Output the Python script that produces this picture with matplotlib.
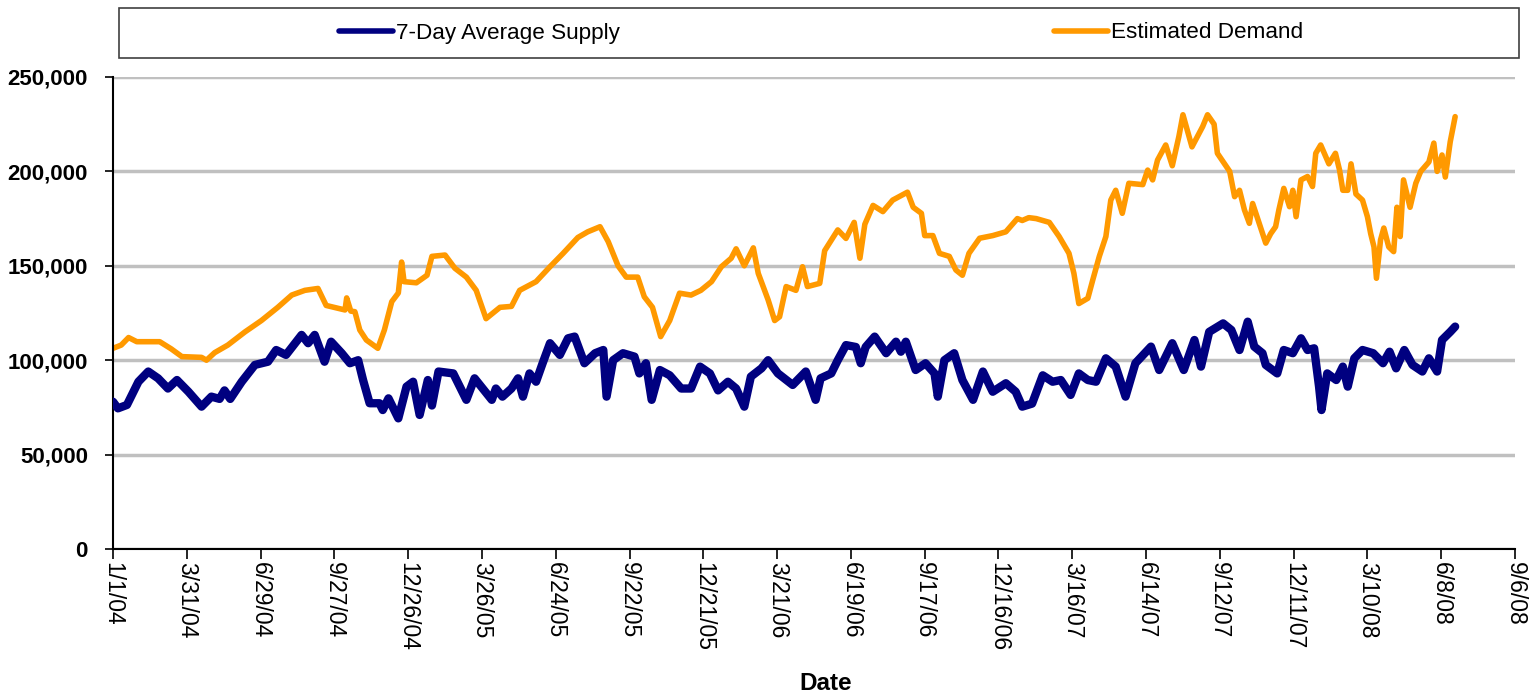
import matplotlib
matplotlib.use("Agg")
import matplotlib.pyplot as plt
import matplotlib.ticker as mticker
from matplotlib.patches import Rectangle
import pandas as pd

plt.rcParams['font.family'] = ['Liberation Sans', 'DejaVu Sans']

start = pd.Timestamp('2004-01-01')

# days after 1/1/04 and values
demand_days = [0, 10, 19, 29, 57, 71, 84, 108, 114, 124, 140, 161, 181, 201, 218, 234, 250, 260,
               283, 285, 290, 295, 301, 309, 323, 331, 340, 348, 352, 355, 370, 383, 389, 405,
               417, 431, 443, 455, 472, 486, 496, 516, 533, 549, 567, 579, 594, 604, 616, 626,
               640, 648, 658, 668, 679, 691, 705, 717, 730, 742, 754, 760, 770, 781, 787, 799,
               807, 813, 821, 833, 841, 847, 862, 868, 884, 894, 904, 911, 917, 927, 939, 951,
               969, 976, 986, 990, 1000, 1008, 1020, 1028, 1036, 1044, 1057, 1073, 1089, 1103,
               1109, 1117, 1126, 1142, 1154, 1166, 1172, 1178, 1189, 1195, 1203, 1211, 1217,
               1223, 1231, 1239, 1256, 1262, 1268, 1274, 1284, 1292, 1300, 1305, 1316, 1329,
               1335, 1343, 1347, 1362, 1368, 1374, 1380, 1386, 1390, 1398, 1406, 1412, 1418,
               1422, 1428, 1435, 1439, 1443, 1449, 1457, 1463, 1467, 1473, 1483, 1491, 1496,
               1500, 1506, 1510, 1516, 1524, 1530, 1534, 1538, 1541, 1546, 1550, 1556, 1562,
               1566, 1570, 1574, 1582, 1589, 1595, 1605, 1611, 1615, 1621, 1625, 1631, 1637]
demand_k = [106.3, 108, 112, 109.8, 109.8, 106, 101.9, 101.5, 100, 104, 108, 115, 121, 128, 134.5,
            137, 138, 129, 126.6, 133, 126, 125.7, 116, 110.7, 106.3, 116, 131, 135.6, 152, 141.6,
            141, 145, 155, 155.7, 148.7, 144, 137, 122, 128, 128.5, 137, 141.6, 149.5, 156.6,
            165, 168, 170.7, 162.8, 150, 144, 144, 133.6, 128, 112.5, 121, 135.5, 134.5, 137,
            141.6, 149.5, 154, 159, 150, 159.5, 146, 132, 121, 123, 139, 137, 149.5, 139, 140.7,
            158, 169, 164.5, 173, 154, 172, 182, 178.7, 184.8, 189, 181, 177.8, 166, 166, 156.6,
            155, 147.8, 145, 156.6, 164.6, 166, 168, 175, 174, 175.5, 175, 173, 165.5, 156.6,
            146, 130, 132.8, 142.5, 155, 165.5, 184.8, 190, 177.8, 193.7, 193, 200.7, 195.5,
            206, 214, 203, 218.4, 230, 213, 223.7, 230, 225, 209.6, 200, 186.6, 190, 179.6,
            172.5, 183, 172.5, 162, 167, 170.7, 179.6, 191, 181.3, 190, 176, 195.5, 197.3, 192,
            209.6, 214, 204, 209.6, 200.7, 190, 190, 204, 188, 184.8, 176, 167, 160, 143.4,
            163.7, 170, 160, 157.5, 181, 165.5, 195.5, 181, 193.7, 200, 205, 215, 200, 208.7,
            197, 215.7, 229]

supply_days = [0, 6, 17, 31, 43, 55, 67, 78, 92, 108, 120, 130, 136, 143, 157, 173, 189, 199, 211,
               230, 238, 246, 258, 266, 279, 289, 299, 305, 313, 325, 329, 336, 348, 358, 366,
               374, 384, 389, 397, 415, 431, 441, 462, 467, 475, 486, 494, 500, 508, 516, 524,
               533, 545, 555, 563, 575, 588, 598, 602, 610, 622, 636, 642, 650, 657, 667, 679,
               693, 705, 716, 728, 738, 750, 760, 770, 778, 791, 799, 811, 829, 845, 857, 863,
               876, 884, 894, 906, 912, 918, 929, 943, 955, 961, 967, 979, 991, 1002, 1006, 1014,
               1026, 1036, 1049, 1061, 1073, 1089, 1101, 1109, 1121, 1134, 1146, 1156, 1168,
               1178, 1189, 1199, 1211, 1223, 1235, 1247, 1266, 1276, 1292, 1306, 1319, 1327,
               1337, 1354, 1364, 1374, 1384, 1392, 1402, 1406, 1420, 1428, 1439, 1449, 1457,
               1465, 1471, 1474, 1481, 1492, 1500, 1506, 1514, 1524, 1537, 1549, 1557, 1565,
               1575, 1585, 1597, 1605, 1615, 1621, 1631, 1637]
supply_k = [78, 74.5, 76.3, 88.6, 94, 90.4, 85, 89.5, 83.3, 75.4, 80.7, 79.5, 84, 79.5, 88.6, 97.5,
            99.2, 105.4, 102.8, 113.4, 109, 113.4, 99.2, 109.8, 103.7, 98.4, 100, 89.5, 77.2,
            77.2, 73.6, 79.8, 69.2, 86, 88.6, 71, 89.5, 76, 94, 93, 79, 90.4, 79, 85, 80.7, 85,
            90.4, 80.7, 93, 88.6, 98.4, 109, 102.8, 111.6, 112.5, 98.4, 103.7, 105.4, 80.7, 100,
            103.7, 101.9, 93, 98.4, 79, 94.8, 92, 85, 85, 96.6, 93, 84, 88.6, 85, 75.4, 91.3,
            95.7, 100, 93, 86.9, 94, 79, 90.4, 93, 100, 108, 107, 98.4, 107, 112.5, 103.7, 109.8,
            104.5, 109.8, 94.8, 98.4, 93, 80.7, 100, 103.7, 89.5, 79, 94, 83.3, 87.8, 83.3, 75.4,
            77, 92, 88.6, 89.5, 81.6, 93, 89.5, 88.6, 101, 96.6, 80.7, 98.4, 107.2, 94.8, 109,
            94.8, 110.7, 96.6, 115, 119.5, 116, 105.4, 120.4, 107.2, 103.7, 97.5, 93, 105.4,
            103.7, 111.6, 105.4, 106.3, 86, 73.6, 93, 89.5, 96.6, 86, 101, 105.4, 103.7, 98.4,
            104.5, 95.7, 105.4, 97.5, 94, 101, 94, 110.7, 115, 117.8]

demand_dates = start + pd.to_timedelta(demand_days, unit='D')
supply_dates = start + pd.to_timedelta(supply_days, unit='D')
demand = [v * 1000 for v in demand_k]
supply = [v * 1000 for v in supply_k]

tick_dates = pd.date_range('2004-01-01', periods=20, freq='90D')

fig = plt.figure(figsize=(15.29, 6.94), dpi=100)
ax = fig.add_axes([113 / 1529, 1 - 549 / 694, 1402 / 1529, 472 / 694])

l1, = ax.plot(supply_dates, supply, color='#000080', lw=6, solid_joinstyle='round',
              solid_capstyle='round', label='7-Day Average Supply', zorder=3)
l2, = ax.plot(demand_dates, demand, color='#FF9900', lw=4, solid_joinstyle='round',
              solid_capstyle='round', label='Estimated Demand', zorder=2)

ax.set_ylim(0, 250000)
ax.set_xlim(tick_dates[0], tick_dates[-1])
ax.yaxis.set_major_locator(mticker.MultipleLocator(50000))
ax.yaxis.set_major_formatter(mticker.FuncFormatter(lambda v, p: f'{int(v):,}'))
ax.set_xticks(tick_dates)
ax.set_xticklabels([f'{d.month}/{d.day}/{d.strftime("%y")}' for d in tick_dates],
                   rotation=270, va='top', ha='center', fontsize=16.5)
for t in ax.get_yticklabels():
    t.set_fontweight('bold')
    t.set_fontsize(16)

ax.yaxis.grid(True, color='#c0c0c0', lw=2.5, zorder=0)
ax.set_axisbelow(True)
ax.spines['top'].set_visible(False)
ax.spines['right'].set_visible(False)
ax.spines['left'].set_linewidth(1.5)
ax.spines['bottom'].set_linewidth(1.5)
ax.tick_params(axis='y', length=6, width=1.2, pad=12)
ax.tick_params(axis='x', length=7, width=1.2, pad=2)

fig.text(826 / 1529, 1 - 683 / 694, 'Date', fontsize=17.5, fontweight='bold',
         ha='center', va='center')

# legend box
fig.add_artist(Rectangle((119 / 1529, 1 - 58 / 694), 1400 / 1529, 50 / 694,
                         transform=fig.transFigure, fill=False, edgecolor='#404040', lw=1.2))
leg = fig.legend(handles=[l1, l2], loc='center', bbox_to_anchor=(821 / 1529, 1 - 33 / 694),
                 ncol=2, frameon=False, fontsize=16.2, handlelength=2.4, handletextpad=0.15,
                 columnspacing=19.3)
for h in leg.get_lines():
    h.set_linewidth(4)

fig.savefig('out.png', dpi=100)
